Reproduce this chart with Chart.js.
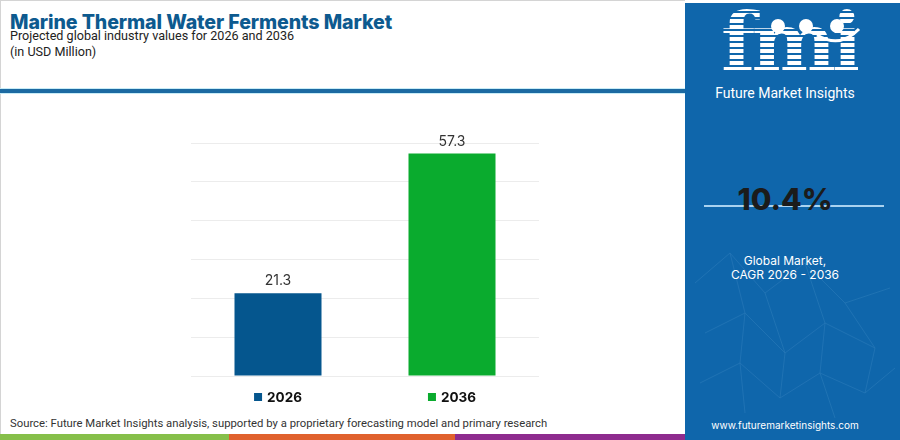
<!DOCTYPE html>
<html>
<head>
<meta charset="utf-8">
<script src="https://cdn.jsdelivr.net/npm/chart.js@4"></script>
<style>
  body { margin: 0; width: 900px; height: 440px; overflow: hidden; background: #fff; font-family: "Inter", "Open Sans", sans-serif; position: relative; }
  .frame { position: absolute; left: 0; top: 0; width: 684px; height: 433px; border-left: 1px solid #d4d4d4; border-top: 1px solid #d4d4d4; }
  .title { position: absolute; left: 10px; top: 10px; font-size: 19.6px; font-weight: 800; color: #0d5a8f; letter-spacing: -0.1px; }
  .sub { position: absolute; left: 10px; font-family: Roboto, sans-serif; font-size: 12.6px; color: #222; }
  .divider { position: absolute; left: 0; top: 88px; width: 685px; height: 4px; background: #1c6aa2; border-top: 1px solid #c8ecf7; border-bottom: 1px solid #c8ecf7; }
  .source { position: absolute; left: 10px; top: 417px; font-family: Roboto, sans-serif; font-size: 11.3px; color: #333; }
  .strip { position: absolute; top: 434px; height: 6px; }
  .panel { position: absolute; left: 685px; top: 3px; width: 215px; height: 437px; background: #0f66ab; color: #fff; overflow: hidden; }
  .logo { position: absolute; left: 36px; top: -8px; font-family: "DejaVu Serif", serif; font-weight: bold; font-size: 80px; letter-spacing: -4px;
          background: repeating-linear-gradient(180deg, #ffffff 0 4px, #0f66ab 4px 6px); -webkit-background-clip: text; background-clip: text; color: transparent; }
  .dot { position: absolute; width: 14px; height: 14px; border-radius: 50%; background: #fff; }
  .fmi-name { position: absolute; left: 0; width: 200px; text-align: center; top: 82px; font-family: Roboto, sans-serif; font-size: 14px; color: #fff; }
  .cagr { position: absolute; left: 0; width: 200px; text-align: center; top: 178px; font-size: 30px; font-weight: 800; color: #1b1b1b; }
  .cagr-line { position: absolute; left: 19px; width: 180px; top: 202px; height: 2px; background: #a9d2f0; }
  .small { position: absolute; left: 0; width: 200px; text-align: center; font-size: 12px; color: #fff; }
  #wrap { position: absolute; left: 191px; top: 120px; width: 348px; height: 296px; }
</style>
</head>
<body>
<div class="frame"></div>
<div class="title">Marine Thermal Water Ferments Market</div>
<div class="sub" style="top:28px">Projected global industry values for 2026 and 2036</div>
<div class="sub" style="top:44px">(in USD Million)</div>
<div class="divider"></div>

<div id="wrap"><canvas id="myChart"></canvas></div>

<div class="source">Source: Future Market Insights analysis, supported by a proprietary forecasting model and primary research</div>
<div class="strip" style="left:0;width:229px;background:#86bf4a"></div>
<div class="strip" style="left:229px;width:226px;background:#e0612d"></div>
<div class="strip" style="left:455px;width:230px;background:#8e2b8e"></div>

<div class="panel">
  <svg width="215" height="437" style="position:absolute;left:0;top:0">
    <g stroke="#5d9fd3" stroke-width="0.7" opacity="0.3" fill="none">
      <polyline points="10,280 45,250 80,290 120,260 160,300 205,285"/>
      <polyline points="20,330 60,310 100,350 140,320 190,345"/>
      <polyline points="15,380 55,360 95,395 135,370 180,390 210,365"/>
      <polyline points="45,250 60,310 55,360 60,410"/>
      <polyline points="120,260 140,320 135,370 150,415"/>
      <polyline points="80,290 100,350 95,395"/>
      <polyline points="160,300 190,345 180,390"/>
    </g>
  </svg>
  <div class="logo">fmi</div>
  <div class="dot" style="left:86px;top:16px"></div>
  <div class="dot" style="left:114px;top:16px"></div>
  <div class="dot" style="left:145px;top:16px"></div>
  <svg width="215" height="60" style="position:absolute;left:0;top:0">
    <path d="M132,32 Q155,46 174,26" stroke="#fff" stroke-width="3" fill="none"/>
  </svg>
  <div class="fmi-name">Future Market Insights</div>
  <div class="cagr-line"></div>
  <div class="cagr">10.4%</div>
  <div class="small" style="top:250px">Global Market,</div>
  <div class="small" style="top:264px">CAGR 2026 - 2036</div>
  <div class="small" style="top:416px;font-size:10px">www.futuremarketinsights.com</div>
</div>

<script>
// chart data
const years = ['2026', '2036'];
const marketValues = [21.3, 57.3];
const barColors = ['#05568e', '#0aab2e'];
const yTicks = [0, 10, 20, 30, 40, 50, 60];

// value labels above the bars
const valueLabels = {
  id: 'valueLabels',
  afterDatasetsDraw(chart) {
    const ctx = chart.ctx;
    const meta = chart.getDatasetMeta(0);
    ctx.save();
    ctx.font = '14px Inter, "Open Sans", sans-serif';
    ctx.fillStyle = '#333';
    ctx.textAlign = 'center';
    ctx.textBaseline = 'middle';
    meta.data.forEach(function(bar, i) {
      ctx.fillText(marketValues[i].toFixed(1), bar.x, bar.y - 12);
    });
    ctx.restore();
  }
};

// x labels with a coloured square in front
const squareLabels = {
  id: 'squareLabels',
  afterDraw(chart) {
    const ctx = chart.ctx;
    const xScale = chart.scales.x;
    const y = chart.chartArea.bottom + 21;
    ctx.save();
    ctx.font = 'bold 13.5px Inter, "Open Sans", sans-serif';
    ctx.textBaseline = 'middle';
    ctx.textAlign = 'left';
    years.forEach(function(label, i) {
      const cx = xScale.getPixelForValue(i);
      const tw = ctx.measureText(label).width;
      const total = 8 + 5 + tw;
      const left = cx - total / 2;
      ctx.fillStyle = barColors[i];
      ctx.fillRect(left, y - 4, 8, 8);
      ctx.fillStyle = '#111';
      ctx.fillText(label, left + 13, y + 1);
    });
    ctx.restore();
  }
};

const ctx = document.getElementById('myChart').getContext('2d');
const myChart = new Chart(ctx, {
  type: 'bar',
  data: {
    labels: years,
    datasets: [{
      data: marketValues,
      backgroundColor: barColors,
      borderWidth: 0,
      categoryPercentage: 1,
      barPercentage: 0.5
    }]
  },
  options: {
    responsive: true,
    maintainAspectRatio: false,
    animation: false,
    layout: { padding: { top: 23, left: 0, right: 0, bottom: 0 } },
    plugins: { legend: { display: false }, tooltip: { enabled: false } },
    scales: {
      x: {
        grid: { display: false },
        border: { display: false },
        ticks: { display: false },
        afterFit: function(scale) { scale.height = 40; }
      },
      y: {
        min: 0,
        max: 60,
        afterBuildTicks: function(scale) { scale.ticks = yTicks.map(function(v) { return { value: v }; }); },
        grid: { color: '#ececec', drawTicks: false },
        border: { display: false },
        ticks: { display: false },
        afterFit: function(scale) { scale.width = 0; }
      }
    }
  },
  plugins: [valueLabels, squareLabels]
});
</script>
</body>
</html>
